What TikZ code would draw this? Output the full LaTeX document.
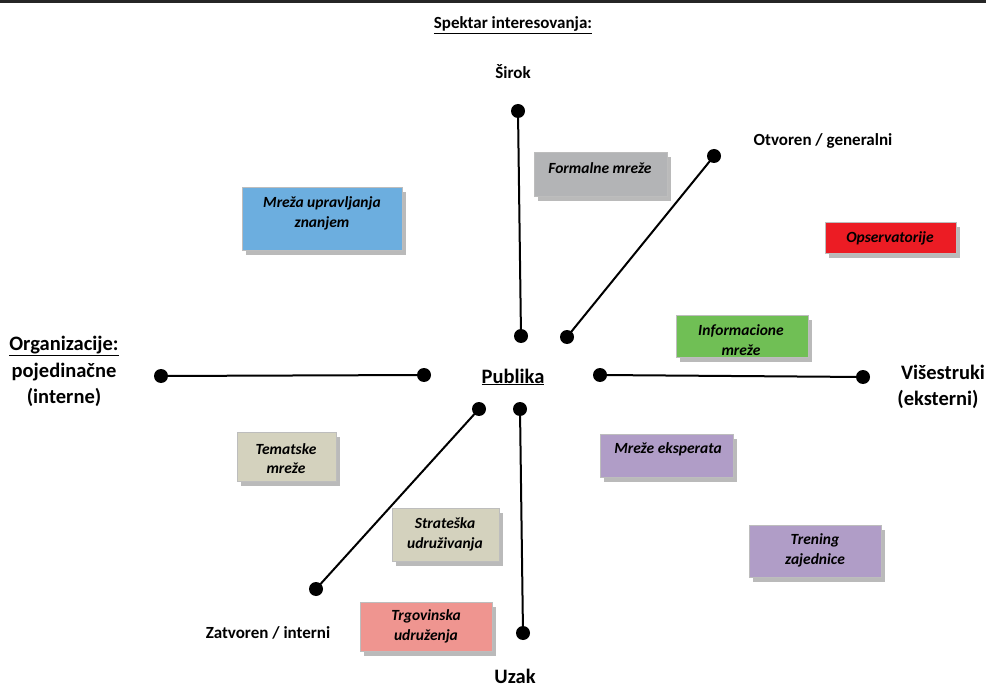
\documentclass[tikz,border=0pt]{standalone}
\usepackage{fontspec}
\setmainfont{Carlito}
\usetikzlibrary{shadows}
\definecolor{cblue}{HTML}{6CAEDF}
\definecolor{cgray}{HTML}{B3B4B6}
\definecolor{cred}{HTML}{EC1C24}
\definecolor{cgreen}{HTML}{70BF55}
\definecolor{ctan}{HTML}{D4D2BE}
\definecolor{cpurple}{HTML}{B09DC7}
\definecolor{cpink}{HTML}{EF9590}
\definecolor{cborder}{HTML}{BDBDBD}
\begin{document}
\begin{tikzpicture}[x=1pt,y=-1pt,
  dot/.style={circle,fill=black,minimum size=14pt,inner sep=0pt},
  conn/.style={line width=2pt,black},
  lbl/.style={font=\fontsize{17}{20}\selectfont\bfseries,inner sep=0pt},
  biglbl/.style={font=\fontsize{20.5}{25}\selectfont\bfseries,inner sep=0pt,align=center},
  netbox/.style={draw=cborder,line width=0.8pt,inner sep=0pt,anchor=north west,
    drop shadow={shadow xshift=4pt,shadow yshift=-5pt,fill=black!45,opacity=0.6}},
  boxtxt/.style={font=\fontsize{15.5}{19.5}\selectfont\bfseries\itshape,inner sep=0pt,align=center}
]
\useasboundingbox (0,0) rectangle (986,687);
\fill[black!85] (0,0) rectangle (986,3);

% labels
\node[lbl] (spektar) at (513,25) {\underline{Spektar interesovanja:}};
\node[lbl] (sirok) at (513,72) {Širok};
\node[lbl] (otv) at (823,141) {Otvoren / generalni};
\node[biglbl] (org) at (64,346) {\underline{Organizacije:}};
\node[biglbl] (poj) at (64,372) {pojedinačne};
\node[biglbl] (int) at (64,397) {(interne)};
\node[biglbl] (pub) at (513,377) {\underline{Publika}};
\node[biglbl] (vis) at (943,372) {Višestruki};
\node[biglbl] (eks) at (938,399) {(eksterni)};
\node[lbl] (zat) at (268,633) {Zatvoren / interni};
\node[biglbl] (uzak) at (515,676) {Uzak};

% dots
\node[dot] (t1) at (518,111) {};
\node[dot] (t2) at (521,336) {};
\node[dot] (d1) at (714,156) {};
\node[dot] (d2) at (567,337) {};
\node[dot] (l1) at (161,376) {};
\node[dot] (l2) at (424,375) {};
\node[dot] (r1) at (600,375) {};
\node[dot] (r2) at (863,377) {};
\node[dot] (b1) at (479,409) {};
\node[dot] (b2) at (316,589) {};
\node[dot] (u1) at (520,409) {};
\node[dot] (u2) at (523,633) {};

\draw[conn] (t1.center) -- (t2.center);
\draw[conn] (d1.center) -- (d2.center);
\draw[conn] (l1.center) -- (l2.center);
\draw[conn] (r1.center) -- (r2.center);
\draw[conn] (b1.center) -- (b2.center);
\draw[conn] (u1.center) -- (u2.center);

% boxes
\node[netbox,fill=cblue,minimum width=160pt,minimum height=63pt] (mz) at (242,187) {};
\node[boxtxt] at (322,213.5) {Mreža upravljanja\\znanjem};
\node[netbox,fill=cgray,minimum width=133pt,minimum height=44pt] (fm) at (534,152) {};
\node[boxtxt] at (600,168) {Formalne mreže};
\node[netbox,fill=cred,minimum width=131pt,minimum height=31pt] (op) at (825,222) {};
\node[boxtxt] at (890,238) {Opservatorije};
\node[netbox,fill=cgreen,minimum width=132pt,minimum height=42pt] (im) at (676,315) {};
\node[boxtxt] at (741,340) {Informacione\\mreže};
\node[netbox,fill=ctan,minimum width=99pt,minimum height=49pt] (tm) at (237,432) {};
\node[boxtxt] at (286,458.5) {Tematske\\mreže};
\node[netbox,fill=ctan,minimum width=107pt,minimum height=53pt] (su) at (392,508) {};
\node[boxtxt] at (445,534.5) {Strateška\\udruživanja};
\node[netbox,fill=cpurple,minimum width=133pt,minimum height=43pt] (me) at (600,434) {};
\node[boxtxt] at (668,449) {Mreže eksperata};
\node[netbox,fill=cpurple,minimum width=132pt,minimum height=52pt] (tz) at (749,525) {};
\node[boxtxt] at (815,550.5) {Trening\\zajednice};
\node[netbox,fill=cpink,minimum width=132pt,minimum height=49pt] (tu) at (360,602) {};
\node[boxtxt] at (426,626.5) {Trgovinska\\udruženja};
\end{tikzpicture}
\end{document}
